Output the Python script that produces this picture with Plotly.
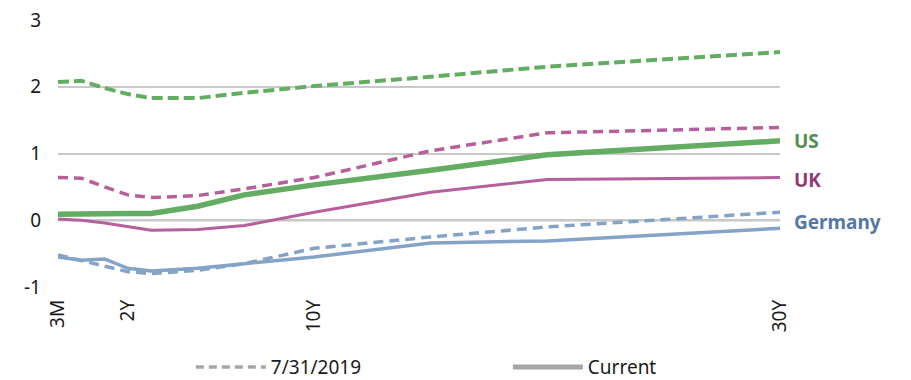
import plotly.graph_objects as go

# Full maturity ladder (category axis)
all_maturities = ["3M", "6M"] + [f"{y}Y" for y in range(1, 31)]
maturities = ["3M", "6M", "1Y", "2Y", "3Y", "5Y", "7Y", "10Y", "15Y", "20Y", "30Y"]

us_prev = [2.07, 2.09, 1.98, 1.89, 1.83, 1.83, 1.91, 2.01, 2.15, 2.30, 2.52]
us_curr = [0.09, 0.10, 0.10, 0.10, 0.10, 0.21, 0.38, 0.53, 0.75, 0.98, 1.19]
uk_prev = [0.64, 0.63, 0.50, 0.38, 0.34, 0.37, 0.47, 0.64, 1.04, 1.31, 1.39]
uk_curr = [0.02, 0.00, -0.04, -0.10, -0.15, -0.14, -0.08, 0.12, 0.42, 0.61, 0.64]
de_prev = [-0.52, -0.60, -0.69, -0.77, -0.80, -0.75, -0.65, -0.42, -0.25, -0.10, 0.12]
de_curr = [-0.55, -0.60, -0.58, -0.72, -0.76, -0.72, -0.65, -0.55, -0.34, -0.31, -0.12]

tick_labels = ["3M", "2Y", "10Y", "30Y"]
y_ticks = [-1, 0, 1, 2, 3]

GREEN = "#63ad63"
PURPLE = "#b5609a"
BLUE = "#84a3c7"
GRAY = "#a6a6a6"

fig = go.Figure()

def add(y, color, width, dash):
    fig.add_trace(go.Scatter(x=maturities, y=y, mode="lines", showlegend=False,
                             line=dict(color=color, width=width, dash=dash),
                             hoverinfo="skip"))

add(de_prev, BLUE, 3.5, "10px,6px")
add(de_curr, BLUE, 3.5, "solid")
add(uk_prev, PURPLE, 3.5, "10px,6px")
add(uk_curr, PURPLE, 3, "solid")
add(us_prev, GREEN, 4, "11px,5px")
add(us_curr, GREEN, 5.5, "solid")

# legend entries
fig.add_trace(go.Scatter(x=[None], y=[None], mode="lines", name="7/31/2019",
                         line=dict(color=GRAY, width=3.5, dash="8px,5px")))
fig.add_trace(go.Scatter(x=[None], y=[None], mode="lines", name="Current",
                         line=dict(color=GRAY, width=5)))

fig.add_hline(y=0, line=dict(color="#8c8c8c", width=2), layer="below")

labels = [("US", 1.19, "#4e914e"), ("UK", 0.61, "#8e3b74"), ("Germany", -0.02, "#5677a3")]
for text, yv, col in labels:
    fig.add_annotation(x=31, y=yv, xref="x", yref="y", text=text, showarrow=False,
                       xanchor="left", xshift=12,
                       font=dict(family="Noto Sans", size=19, color=col, weight="bold"))

fig.update_layout(
    width=911, height=380,
    margin=dict(l=58, r=131, t=20, b=93, autoexpand=False),
    plot_bgcolor="white", paper_bgcolor="white",
    font=dict(family="Noto Sans", size=19, color="#1a1a1a"),
    xaxis=dict(type="category", categoryorder="array", categoryarray=all_maturities,
               range=[0, 31], tickmode="array", tickvals=tick_labels, ticktext=tick_labels,
               tickangle=-90, showgrid=False, zeroline=False, showline=False,
               ticks="", tickfont=dict(size=19), automargin=False, ticklabelstandoff=8),
    yaxis=dict(range=[-1, 3], tickvals=y_ticks, ticktext=[str(v) for v in y_ticks],
               showgrid=True, gridcolor="#c8c8c8", gridwidth=1.5, zeroline=False,
               ticks="", ticklabelstandoff=16, automargin=False),
    legend=dict(orientation="h", x=0.184, xanchor="left", y=-0.30, yanchor="middle",
                font=dict(size=19), itemwidth=70, traceorder="normal",
                entrywidth=232, entrywidthmode="pixels"),
)

fig.write_html("out.html")
